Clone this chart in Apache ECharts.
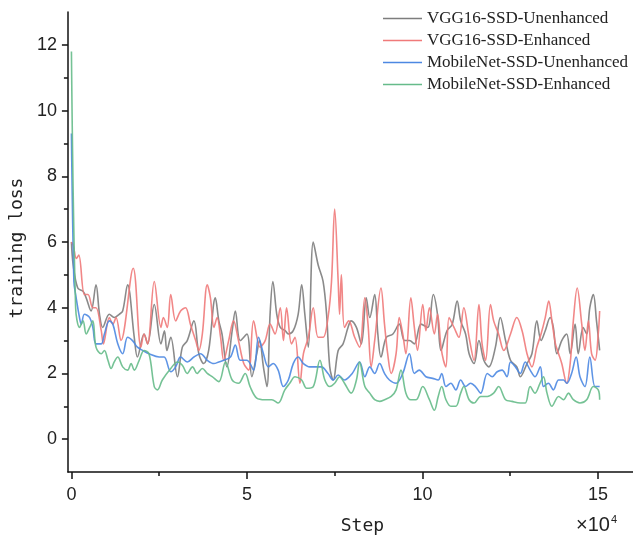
<!DOCTYPE html>
<html>
<head>
<meta charset="utf-8">
<script src="https://cdn.jsdelivr.net/npm/echarts@6/dist/echarts.min.js"></script>
<style>
html,body{margin:0;padding:0;background:#fff;}
#chart{width:633px;height:542px;}
</style>
</head>
<body>
<div id="chart"></div>
<script>
// ---- data: [step (x10^4), training loss] ----
const seriesNames = ['VGG16-SSD-Unenhanced','VGG16-SSD-Enhanced','MobileNet-SSD-Unenhanced','MobileNet-SSD-Enhanced'];
const xTickValues = [0,5,10,15];
const xMinorTickValues = [2.5,7.5,12.5];
const yTickValues = [0,2,4,6,8,10,12];
const yMinorTickValues = [1,3,5,7,9,11];

const vggUnenhanced = [[0,6.0],[0.05,5.3],[0.18,4.6],[0.33,4.5],[0.42,4.3],[0.56,3.9],[0.70,4.7],[0.80,3.8],[0.89,3.4],[1.08,3.8],[1.22,3.7],[1.36,3.8],[1.46,3.9],[1.60,4.7],[1.79,3.1],[1.88,2.5],[2.07,3.2],[2.17,2.9],[2.36,4.1],[2.55,2.9],[2.65,3.3],[2.72,2.7],[2.83,3.1],[3.02,1.9],[3.16,2.8],[3.30,3.0],[3.49,3.6],[3.63,2.6],[3.77,2.3],[3.91,2.7],[4.10,4.3],[4.20,3.6],[4.29,3.2],[4.43,2.2],[4.58,3.3],[4.67,3.9],[4.81,3.0],[5.00,3.2],[5.14,1.9],[5.28,2.6],[5.36,3.0],[5.47,2.2],[5.57,1.6],[5.66,3.8],[5.74,4.8],[5.85,3.8],[5.95,3.4],[6.09,3.3],[6.18,3.2],[6.32,3.3],[6.46,3.8],[6.56,4.7],[6.65,3.8],[6.75,2.8],[6.89,6.0],[7.03,5.3],[7.17,4.8],[7.27,3.8],[7.36,2.2],[7.46,1.8],[7.60,2.7],[7.74,2.9],[7.88,3.4],[7.97,3.6],[8.12,3.4],[8.26,2.9],[8.40,4.3],[8.50,3.7],[8.64,4.4],[8.73,3.2],[8.82,2.5],[8.97,3.1],[9.16,3.2],[9.34,3.5],[9.49,3.0],[9.63,3.0],[9.77,2.9],[9.96,3.5],[10.15,3.4],[10.31,4.4],[10.43,3.8],[10.53,2.7],[10.70,3.3],[10.85,3.5],[10.99,4.2],[11.09,3.6],[11.23,3.2],[11.33,2.6],[11.47,2.3],[11.61,3.0],[11.75,2.4],[11.89,2.2],[12.08,2.8],[12.22,3.7],[12.37,3.0],[12.51,2.4],[12.69,2.2],[12.79,1.9],[12.98,2.3],[13.12,2.6],[13.26,3.6],[13.38,3.0],[13.50,3.3],[13.64,3.7],[13.73,3.4],[13.83,2.6],[13.97,3.0],[14.11,3.2],[14.21,2.6],[14.35,3.5],[14.44,2.6],[14.58,3.4],[14.68,3.2],[14.77,4.0],[14.87,4.4],[14.96,3.6],[15.05,2.7]];

const vggEnhanced = [[0,6.0],[0.05,5.9],[0.14,5.5],[0.21,5.6],[0.37,4.4],[0.47,4.4],[0.61,4.0],[0.70,4.0],[0.85,3.3],[0.91,2.9],[1.08,3.7],[1.18,3.5],[1.27,3.7],[1.41,3.0],[1.76,5.2],[1.98,2.8],[2.07,3.2],[2.17,2.9],[2.36,4.8],[2.55,3.4],[2.62,3.7],[2.73,3.4],[2.83,4.4],[2.97,3.6],[3.11,3.9],[3.25,4.0],[3.39,3.5],[3.54,3.0],[3.63,2.7],[3.73,3.2],[3.87,4.7],[3.96,4.3],[4.06,3.4],[4.15,3.7],[4.25,3.1],[4.34,2.4],[4.48,3.0],[4.62,3.6],[4.76,3.0],[4.91,2.3],[5.05,2.1],[5.19,3.6],[5.38,2.8],[5.52,3.0],[5.66,3.5],[5.80,3.2],[5.95,4.0],[6.04,3.0],[6.13,4.0],[6.27,2.9],[6.37,3.1],[6.51,1.7],[6.61,2.6],[6.75,3.1],[6.89,4.0],[7.03,3.1],[7.17,3.1],[7.31,3.7],[7.41,4.8],[7.50,7.0],[7.60,4.8],[7.64,3.8],[7.69,5.0],[7.78,3.4],[7.90,3.6],[8.07,3.1],[8.21,2.8],[8.36,4.3],[8.45,3.5],[8.54,2.2],[8.64,3.0],[8.82,4.6],[8.92,3.5],[9.01,2.6],[9.11,2.0],[9.25,2.6],[9.34,3.7],[9.44,3.2],[9.53,2.6],[9.67,4.3],[9.77,3.4],[9.86,2.7],[10.01,4.1],[10.10,3.3],[10.20,4.0],[10.34,3.2],[10.43,3.8],[10.53,2.8],[10.60,2.4],[10.67,2.2],[10.76,3.7],[10.90,3.4],[11.04,3.1],[11.18,4.0],[11.33,3.1],[11.47,2.4],[11.61,4.1],[11.70,2.9],[11.80,2.4],[11.94,4.1],[12.03,3.6],[12.17,3.2],[12.32,2.7],[12.51,3.2],[12.69,3.7],[12.84,3.3],[12.98,2.6],[13.12,2.2],[13.26,2.8],[13.38,3.2],[13.50,3.7],[13.60,4.2],[13.69,3.6],[13.79,2.9],[13.88,2.6],[13.97,2.3],[14.11,1.7],[14.21,2.3],[14.30,3.6],[14.41,4.6],[14.54,3.5],[14.63,2.7],[14.73,3.6],[14.82,2.6],[14.92,2.4],[15.01,3.2],[15.05,3.9]];

const mobileUnenhanced = [[0,9.3],[0.07,4.8],[0.12,4.4],[0.23,3.7],[0.28,3.5],[0.37,3.8],[0.52,3.7],[0.61,3.4],[0.70,2.9],[0.85,2.9],[0.94,3.2],[1.08,3.6],[1.18,3.5],[1.32,2.9],[1.46,2.6],[1.60,3.1],[1.74,3.0],[1.88,2.8],[2.03,2.7],[2.21,2.6],[2.50,2.5],[2.64,2.5],[2.83,2.05],[2.97,2.2],[3.11,2.5],[3.30,2.35],[3.49,2.5],[3.68,2.6],[3.87,2.4],[4.06,2.3],[4.20,2.35],[4.34,2.4],[4.53,2.5],[4.67,2.86],[4.81,2.4],[5.00,2.4],[5.19,2.1],[5.33,3.1],[5.47,2.6],[5.61,2.2],[5.75,2.3],[5.89,2.1],[6.04,1.6],[6.18,1.8],[6.32,2.3],[6.46,2.5],[6.61,2.3],[6.79,2.2],[6.98,2.2],[7.12,2.2],[7.31,2.0],[7.46,1.8],[7.60,1.95],[7.78,1.8],[8.00,2.0],[8.21,2.35],[8.36,1.9],[8.50,2.2],[8.64,2.0],[8.78,2.3],[8.92,2.0],[9.06,1.8],[9.25,1.7],[9.44,2.0],[9.63,2.6],[9.77,2.0],[9.91,2.1],[10.10,1.9],[10.29,1.85],[10.45,1.8],[10.55,2.0],[10.67,1.6],[10.81,1.7],[10.95,1.5],[11.09,1.8],[11.23,1.6],[11.37,1.7],[11.51,1.6],[11.66,1.4],[11.85,2.0],[11.99,1.9],[12.13,2.05],[12.27,2.1],[12.41,1.9],[12.51,2.35],[12.65,2.2],[12.79,2.0],[12.93,2.35],[13.07,2.1],[13.21,1.9],[13.36,2.2],[13.45,1.6],[13.59,1.7],[13.73,1.5],[13.88,1.8],[14.02,1.8],[14.11,1.7],[14.25,2.0],[14.38,2.5],[14.49,1.9],[14.63,1.6],[14.77,2.5],[14.92,1.6],[15.05,1.6]];

const mobileEnhanced = [[0,11.8],[0.12,4.0],[0.23,3.4],[0.33,3.6],[0.42,3.2],[0.52,3.4],[0.61,3.6],[0.70,2.8],[0.85,2.6],[0.94,2.7],[1.04,2.4],[1.13,2.15],[1.22,2.35],[1.32,2.5],[1.46,2.2],[1.60,2.1],[1.70,2.3],[1.79,2.1],[1.93,2.4],[2.07,2.7],[2.21,2.6],[2.36,1.6],[2.45,1.5],[2.59,1.8],[2.83,2.15],[3.02,2.35],[3.16,2.25],[3.30,2.0],[3.45,2.2],[3.58,2.0],[3.73,2.15],[3.87,2.0],[4.01,1.9],[4.20,1.75],[4.39,2.35],[4.58,1.8],[4.76,1.7],[4.95,2.0],[5.09,1.6],[5.28,1.25],[5.52,1.2],[5.71,1.2],[5.89,1.1],[6.08,1.5],[6.22,1.7],[6.37,1.9],[6.56,1.8],[6.70,1.55],[6.89,1.6],[7.08,2.4],[7.22,1.8],[7.36,1.6],[7.50,1.7],[7.64,1.9],[7.78,1.7],[7.97,1.4],[8.12,1.8],[8.21,2.35],[8.36,1.6],[8.50,1.4],[8.64,1.2],[8.78,1.15],[8.92,1.2],[9.11,1.3],[9.25,1.5],[9.39,2.1],[9.53,1.4],[9.67,1.2],[9.82,1.2],[10.01,1.6],[10.20,1.2],[10.34,0.88],[10.45,1.3],[10.55,1.6],[10.67,1.2],[10.81,1.0],[10.95,1.0],[11.09,1.4],[11.18,1.6],[11.33,1.2],[11.47,1.1],[11.66,1.3],[11.85,1.3],[12.03,1.4],[12.17,1.6],[12.37,1.2],[12.55,1.15],[12.79,1.1],[12.93,1.1],[13.07,1.6],[13.21,1.4],[13.35,1.7],[13.45,1.9],[13.55,1.4],[13.69,1.0],[13.88,1.3],[14.02,1.2],[14.16,1.4],[14.30,1.2],[14.49,1.1],[14.68,1.2],[14.87,1.6],[15.01,1.5],[15.05,1.2]];

const seriesData = [vggUnenhanced, vggEnhanced, mobileUnenhanced, mobileEnhanced];
const seriesColors = ['#7d7d7d','#f07a7a','#4d88e2','#66bb8a'];

const chart = echarts.init(document.getElementById('chart'), null, {renderer:'canvas'});
const labelFont = 'Liberation Sans';
const axisColor = '#111';

const option = {
  backgroundColor: '#ffffff',
  animation: false,
  grid: {left: 65, right: 0, top: 12, bottom: 70, containLabel: false},
  legend: {
    orient: 'vertical', left: 383, top: 10,
    icon: 'rect', itemWidth: 39, itemHeight: 1.5, itemGap: 5, padding: 0,
    textStyle: {fontFamily: 'Liberation Serif', fontSize: 17, color: '#222', lineHeight: 17},
    data: seriesNames
  },
  xAxis: [{
    type: 'value', min: -0.1, max: 16, position: 'bottom',
    axisLine: {show: true, onZero: false, lineStyle: {color: axisColor, width: 1.5}},
    axisTick: {show: true, customValues: xTickValues, length: 7, lineStyle: {color: axisColor, width: 1.5}},
    axisLabel: {customValues: xTickValues, fontFamily: labelFont, fontSize: 18, color: '#222', margin: 14},
    splitLine: {show: false},
    name: 'Step', nameLocation: 'middle', nameGap: 45,
    nameTextStyle: {fontFamily: 'DejaVu Sans Mono', fontSize: 18, color: '#222', padding: [0,0,0,24]}
  },{
    type: 'value', min: -0.1, max: 16, position: 'bottom',
    axisLine: {show: false, onZero: false},
    axisTick: {show: true, customValues: xMinorTickValues, length: 4, lineStyle: {color: axisColor, width: 1.5}},
    axisLabel: {show: false},
    splitLine: {show: false}
  }],
  yAxis: [{
    type: 'value', min: -1, max: 13, position: 'left',
    axisLine: {show: true, onZero: false, lineStyle: {color: axisColor, width: 1.5}},
    axisTick: {show: true, customValues: yTickValues, length: 6, lineStyle: {color: axisColor, width: 1.5}},
    axisLabel: {customValues: yTickValues, fontFamily: labelFont, fontSize: 18, color: '#222', margin: 11},
    splitLine: {show: false},
    name: 'training loss', nameLocation: 'middle', nameGap: 34, nameRotate: 90,
    nameTextStyle: {fontFamily: 'DejaVu Sans Mono', fontSize: 18, color: '#222', padding: [0,12,0,0]}
  },{
    type: 'value', min: -1, max: 13, position: 'left', offset: 0,
    axisLine: {show: false, onZero: false},
    axisTick: {show: true, customValues: yMinorTickValues, length: 4, lineStyle: {color: axisColor, width: 1.5}},
    axisLabel: {show: false},
    splitLine: {show: false}
  }],
  graphic: [{
    type: 'text', left: 576, top: 514,
    style: {
      text: '{a|×10}{b|4}',
      rich: {
        a: {fontFamily: labelFont, fontSize: 20, fill: '#222'},
        b: {fontFamily: labelFont, fontSize: 11, fill: '#222', verticalAlign: 'top', padding: [0,0,11,1]}
      }
    }
  }],
  series: seriesNames.map((n, i) => ({
    name: n, type: 'line', xAxisIndex: 0, yAxisIndex: 0,
    data: seriesData[i], smooth: 0.35, symbol: 'none', showSymbol: false,
    lineStyle: {color: seriesColors[i], width: 1.6, opacity: 0.9},
    itemStyle: {color: seriesColors[i]}
  }))
};
chart.setOption(option);
</script>
</body>
</html>
